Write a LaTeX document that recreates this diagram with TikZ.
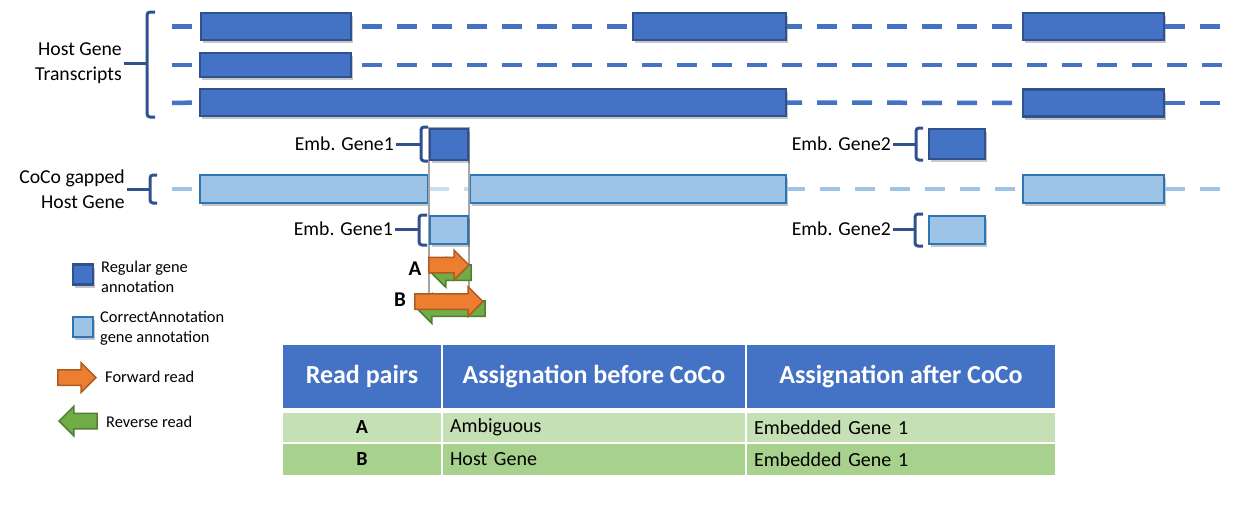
\documentclass[tikz,border=0pt]{standalone}
\usepackage{fontspec}
\setmainfont{Carlito}
\usetikzlibrary{shapes.arrows,shadows}

\definecolor{regfill}{HTML}{4472C4}
\definecolor{regline}{HTML}{2F528F}
\definecolor{cocofill}{HTML}{9DC3E6}
\definecolor{cocoline}{HTML}{2E75B6}
\definecolor{fwdfill}{HTML}{ED7D31}
\definecolor{fwdline}{HTML}{AE5A21}
\definecolor{revfill}{HTML}{70AD47}
\definecolor{revline}{HTML}{507E32}
\definecolor{rowa}{HTML}{C5E0B4}
\definecolor{rowb}{HTML}{A9D18E}
\definecolor{gapline}{HTML}{A6A6A6}

\tikzset{
  exonshadow/.style={drop shadow={shadow xshift=2pt,shadow yshift=-3pt,opacity=0.22,fill=black}},
  regexon/.style={draw=regline,fill=regfill,line width=2.2pt,inner sep=0pt,exonshadow},
  cocoexon/.style={draw=cocoline,fill=cocofill,line width=2pt,inner sep=0pt,exonshadow},
  hostdash/.style={draw=regfill,line width=4.5pt,dash pattern=on 20pt off 15pt},
  cocodash/.style={draw=cocofill,line width=4.5pt,dash pattern=on 20pt off 15pt},
  genebrace/.style={draw=regline,line width=3pt,rounded corners=3pt},
  bracetick/.style={draw=regline,line width=3pt},
  lab/.style={font=\fontsize{19.7}{24.5}\selectfont,inner sep=2pt},
  legtext/.style={font=\fontsize{16.4}{20}\selectfont,inner sep=1pt,align=left,anchor=west},
  readarrow/.style={single arrow,inner xsep=0pt,inner ysep=7pt,single arrow head extend=7pt,
    minimum width=0pt,line width=1.5pt},
  fwdread/.style={readarrow,draw=fwdline,fill=fwdfill},
  revread/.style={readarrow,draw=revline,fill=revfill,shape border rotate=180},
  thead/.style={fill=regfill,text=white,inner sep=0pt,font=\fontsize{26}{30}\bfseries},
  tbody/.style={inner sep=0pt,font=\fontsize{20}{24}\selectfont},
  tleft/.style={tbody,inner xsep=7pt,align=left}
}

\begin{document}
\begin{tikzpicture}[x=1pt,y=-1pt]
    \useasboundingbox (0,0) rectangle (1236,504);

    % Line ends
    \coordinate (s1) at (172,26.5);  \coordinate (e1) at (1222,26.5);
    \coordinate (s2) at (172,65);    \coordinate (e2) at (1222,65);
    \coordinate (s3) at (172,103);   \coordinate (e3) at (1222,103);
    \coordinate (s4) at (172,189);   \coordinate (e4) at (1222,189);

    % Host gene transcripts
    \node[regexon, minimum width=150pt, minimum height=27pt] (t1a) at (276,26.5) {};
    \node[regexon, minimum width=153pt, minimum height=27pt] (t1b) at (709.5,26.5) {};
    \node[regexon, minimum width=141pt, minimum height=27pt] (t1c) at (1093.5,26.5) {};
    \node[regexon, minimum width=151pt, minimum height=24pt] (t2a) at (275.5,65) {};
    \node[regexon, minimum width=586pt, minimum height=27pt] (t3a) at (493,102.5) {};
    \node[regexon, minimum width=141pt, minimum height=27pt] (t3b) at (1093.5,103) {};

    \draw[hostdash] (s1) -- (t1a.west);
    \draw[hostdash, dash phase=25pt] (t1a.east) -- (t1b.west);
    \draw[hostdash, dash phase=5pt] (t1b.east) -- (t1c.west);
    \draw[hostdash] (t1c.east) -- (e1);
    \draw[hostdash] (s2) -- (t2a.west);
    \draw[hostdash, dash phase=25pt] (t2a.east) -- (e2);
    \draw[hostdash] (s3) -- (t3a.west);
    \draw[hostdash, dash phase=5pt] (t3a.east) -- (t3b.west);
    \draw[hostdash] (t3b.east) -- (e3);

    % CoCo gapped host gene
    \node[cocoexon, minimum width=228pt, minimum height=28pt] (c1) at (314,189) {};
    \node[cocoexon, minimum width=316pt, minimum height=28pt] (c2) at (628,189) {};
    \node[cocoexon, minimum width=141pt, minimum height=28pt] (c3) at (1093.5,189) {};

    \draw[cocodash] (s4) -- (c1.west);
    \draw[cocodash] (c1.east) -- (c2.west);
    \draw[cocodash, dash phase=2pt] (c2.east) -- (c3.west);
    \draw[cocodash] (c3.east) -- (e4);

    % Gap of embedded gene 1
    \draw[gapline, line width=1.2pt, fill=white, fill opacity=0.45] (429,128) rectangle (469,300);

    % Embedded genes
    \node[regexon, minimum width=38pt, minimum height=31pt] (emb1) at (449,144.5) {};
    \node[regexon, minimum width=56pt, minimum height=30pt] (emb2) at (957,144) {};
    \node[cocoexon, minimum width=38pt, minimum height=28pt] (cemb1) at (449,230) {};
    \node[cocoexon, minimum width=56pt, minimum height=28pt] (cemb2) at (957,230) {};

    % Braces and labels
    \draw[genebrace] (155,12) -- (147,12) -- (147,117) -- (155,117);
    \coordinate (hostmid) at (147,63);
    \node[lab, anchor=east, align=right] (hostlab) at (124,63) {Host Gene\\Transcripts};
    \draw[bracetick] (hostlab) -- (hostmid);

    \draw[genebrace] (157,175) -- (150,175) -- (150,203) -- (157,203);
    \coordinate (cocomid) at (150,189);
    \node[lab, anchor=east, align=right] (cocolab) at (127,189) {CoCo gapped\\Host Gene};
    \draw[bracetick] (cocolab) -- (cocomid);

    \draw[genebrace] (428,127) -- (421,127) -- (421,161) -- (428,161);
    \coordinate (emb1mid) at (421,144);
    \node[lab, anchor=east] (emb1lab) at (396,144) {Emb. Gene1};
    \draw[bracetick] (emb1lab) -- (emb1mid);

    \draw[genebrace] (427,215) -- (419,215) -- (419,245) -- (427,245);
    \coordinate (cemb1mid) at (419,229);
    \node[lab, anchor=east] (cemb1lab) at (395,229) {Emb. Gene1};
    \draw[bracetick] (cemb1lab) -- (cemb1mid);

    \draw[genebrace] (923,128) -- (916,128) -- (916,160) -- (923,160);
    \coordinate (emb2mid) at (916,144);
    \node[lab, anchor=east] (emb2lab) at (893,144) {Emb. Gene2};
    \draw[bracetick] (emb2lab) -- (emb2mid);

    \draw[genebrace] (923,214) -- (915,214) -- (915,246) -- (923,246);
    \coordinate (cemb2mid) at (915,229);
    \node[lab, anchor=east] (cemb2lab) at (893,229) {Emb. Gene2};
    \draw[bracetick] (cemb2lab) -- (cemb2mid);

    % Read pairs
    \node[revread, minimum height=40pt, anchor=tip] (arev) at (430,272.5) {};
    \node[fwdread, minimum height=40pt, anchor=tip] (afwd) at (470,265) {};
    \node[revread, minimum height=68pt, anchor=tip] (brev) at (416,308.5) {};
    \node[fwdread, minimum height=68pt, anchor=tip] (bfwd) at (484,301.5) {};
    \node[font=\fontsize{21}{24}\bfseries, inner sep=0pt] (alab) at (415,269) {A};
    \node[font=\fontsize{21}{24}\bfseries, inner sep=0pt] (blab) at (400,300) {B};

    % Legend
    \node[regexon, minimum size=20pt] (legreg) at (83,274.5) {};
    \node[legtext] (legregtxt) at (100,277) {Regular gene\\annotation};
    \node[cocoexon, minimum size=20pt] (legcoco) at (83,327) {};
    \node[legtext] (legcocotxt) at (99,328) {CorrectAnnotation\\gene annotation};
    \node[fwdread, minimum height=38pt, anchor=tip] (legfwd) at (97,377.5) {};
    \node[legtext] (legfwdtxt) at (104,377) {Forward read};
    \node[revread, minimum height=38pt, anchor=tip] (legrev) at (58,421) {};
    \node[legtext] (legrevtxt) at (105,422) {Reverse read};

    % Table
    \node[thead, minimum width=158pt, minimum height=63pt] (h1) at (362,376.5) {Read pairs};
    \node[thead, minimum width=302pt, minimum height=63pt] (h2) at (594,376.5) {Assignation before CoCo};
    \node[thead, minimum width=308pt, minimum height=63pt] (h3) at (901,376.5) {Assignation after CoCo};
    \node[tbody, fill=rowa, minimum width=158pt, minimum height=29pt] (a1) at (362,427.5) {\bfseries A};
    \node[tleft, fill=rowa, text width=288pt, minimum height=29pt] (a2) at (594,427.5) {Ambiguous};
    \node[tleft, fill=rowa, text width=294pt, minimum height=29pt] (a3) at (901,427.5) {Embedded Gene 1};
    \node[tbody, fill=rowb, minimum width=158pt, minimum height=31pt] (b1) at (362,459.5) {\bfseries B};
    \node[tleft, fill=rowb, text width=288pt, minimum height=31pt] (b2) at (594,459.5) {Host Gene};
    \node[tleft, fill=rowb, text width=294pt, minimum height=31pt] (b3) at (901,459.5) {Embedded Gene 1};
\end{tikzpicture}
\end{document}
